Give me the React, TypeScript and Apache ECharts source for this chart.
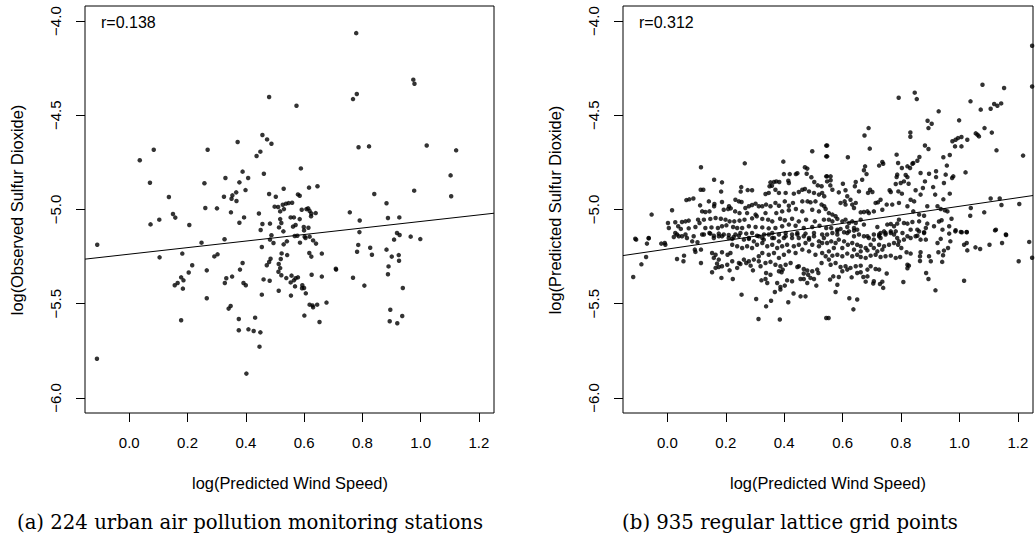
import React, { useEffect, useRef } from "react";
import * as echarts from "echarts";

// Axis ranges (R style: limits -0.1..1.2 and -6..-4, extended 4%)
const X_MIN = -0.152;
const X_MAX = 1.252;
const Y_MIN = -6.08;
const Y_MAX = -3.92;
const xTicks = [0, 0.2, 0.4, 0.6, 0.8, 1.0, 1.2];
const yTicks = [-6, -5.5, -5, -4.5, -4];

const xTitle = "log(Predicted Wind Speed)";
const leftYTitle = "log(Observed Sulfur Dioxide)";
const rightYTitle = "log(Predicted Sulfur Dioxide)";
const leftR = "r=0.138";
const rightR = "r=0.312";
const leftCaption = "(a) 224 urban air pollution monitoring stations";
const rightCaption = "(b) 935 regular lattice grid points";

// fitted lines
const stationFit = { intercept: -5.237, slope: 0.1735 };
const latticeFit = { intercept: -5.21, slope: 0.227 };

// (a) monitoring stations: [log wind speed, log SO2]
const stationsWest: [number, number][] = [
  [0.480,-4.403],[0.457,-4.605],[0.473,-4.628],[0.488,-4.651],[0.372,-4.642],[0.084,-4.683],[0.269,-4.683],[0.036,-4.739],[0.450,-4.693],[0.437,-4.716],
  [0.389,-4.799],[0.462,-4.810],[0.408,-4.833],[0.330,-4.833],[0.378,-4.856],[0.071,-4.858],[0.258,-4.861],[0.399,-4.897],[0.530,-4.890],[0.480,-4.918],
  [0.367,-4.909],[0.354,-4.925],[0.325,-4.932],[0.351,-4.943],[0.368,-4.955],[0.136,-4.934],[0.503,-4.932],[0.261,-4.992],[0.301,-4.994],[0.499,-4.985],
  [0.511,-4.987],[0.527,-4.975],[0.538,-4.969],[0.547,-4.966],[0.518,-5.010],[0.531,-4.998],[0.349,-5.015],[0.150,-5.024],[0.158,-5.043],[0.103,-5.054],
  [0.073,-5.079],[0.206,-5.082],[0.394,-5.042],[0.378,-5.070],[0.445,-5.021],[0.457,-5.077],[0.483,-5.075],[0.518,-5.051],[0.522,-5.072],[0.514,-5.095],
  [0.529,-5.116],[0.451,-5.109],[0.488,-5.137],[0.483,-5.160],[0.495,-5.178],[0.530,-5.185],[0.541,-5.169],[-0.110,-5.187],[0.248,-5.176],[0.327,-5.158],
  [0.455,-5.199],[0.182,-5.234],[0.104,-5.254],[0.292,-5.249],[0.303,-5.238],[0.523,-5.233],[0.542,-5.242],[0.485,-5.261],[0.520,-5.263],[0.480,-5.279],
  [0.472,-5.296],[0.513,-5.289],[0.518,-5.311],[0.512,-5.330],[0.522,-5.349],[0.539,-5.364],[0.389,-5.284],[0.380,-5.319],[0.216,-5.296],[0.266,-5.323],
  [0.204,-5.334],[0.178,-5.360],[0.186,-5.376],[0.166,-5.390],[0.156,-5.402],[0.184,-5.420],[0.333,-5.365],[0.328,-5.390],[0.353,-5.356],[0.392,-5.390],
  [0.400,-5.402],[0.461,-5.371],[0.482,-5.378],[0.455,-5.452],[0.513,-5.431],[0.266,-5.471],[0.348,-5.512],[0.341,-5.526],[0.178,-5.588],[0.376,-5.581],
  [0.432,-5.574],[0.376,-5.641],[0.409,-5.636],[0.427,-5.645],[0.450,-5.652],[0.447,-5.728],[-0.111,-5.792],[0.402,-5.871],
];
const stationsEast: [number, number][] = [
  [0.779,-4.064],[0.975,-4.311],[0.979,-4.333],[0.781,-4.387],[0.768,-4.414],[0.574,-4.449],[0.787,-4.670],[0.823,-4.665],[1.021,-4.660],[1.122,-4.686],
  [0.589,-4.782],[1.103,-4.819],[0.978,-4.900],[1.105,-4.930],[0.841,-4.918],[0.617,-4.884],[0.646,-4.877],[0.579,-4.920],[0.585,-4.927],[0.559,-4.964],
  [0.883,-4.967],[0.592,-5.001],[0.608,-4.998],[0.614,-4.994],[0.619,-5.008],[0.625,-5.021],[0.640,-5.019],[0.624,-5.036],[0.757,-5.015],[0.888,-5.045],
  [0.927,-5.042],[0.554,-5.042],[0.565,-5.042],[0.585,-5.051],[0.571,-5.082],[0.562,-5.091],[0.599,-5.093],[0.615,-5.097],[0.600,-5.111],[0.791,-5.058],
  [0.790,-5.120],[0.919,-5.125],[0.928,-5.135],[0.909,-5.160],[0.966,-5.144],[0.999,-5.157],[0.568,-5.141],[0.577,-5.139],[0.602,-5.144],[0.619,-5.144],
  [0.605,-5.151],[0.631,-5.164],[0.641,-5.181],[0.586,-5.176],[0.786,-5.188],[0.827,-5.203],[0.782,-5.224],[0.833,-5.240],[0.883,-5.213],[0.901,-5.250],
  [0.925,-5.242],[0.926,-5.272],[0.890,-5.302],[0.618,-5.231],[0.625,-5.250],[0.661,-5.234],[0.709,-5.314],[0.710,-5.319],[0.888,-5.344],[0.768,-5.362],
  [0.807,-5.404],[0.626,-5.346],[0.661,-5.356],[0.557,-5.351],[0.579,-5.360],[0.571,-5.365],[0.565,-5.376],[0.554,-5.387],[0.569,-5.408],[0.594,-5.402],
  [0.600,-5.417],[0.593,-5.418],[0.606,-5.445],[0.555,-5.457],[0.939,-5.417],[0.619,-5.505],[0.629,-5.509],[0.645,-5.505],[0.677,-5.494],[0.631,-5.519],
  [0.601,-5.563],[0.653,-5.597],[0.896,-5.532],[0.937,-5.565],[0.894,-5.593],[0.920,-5.604],
];

// (b) lattice grid points
const latticeUpperWest: [number, number][] = [
  [0.496,-4.691],[0.544,-4.661],[0.544,-4.718],[0.115,-4.776],[0.265,-4.755],[0.397,-4.746],[0.471,-4.776],[0.479,-4.783],[0.477,-4.810],[0.399,-4.812],
  [0.419,-4.812],[0.440,-4.812],[0.445,-4.808],[0.160,-4.842],[0.187,-4.856],[0.493,-4.829],[0.503,-4.854],[0.515,-4.872],[0.528,-4.877],[0.544,-4.824],
  [0.353,-4.856],[0.365,-4.854],[0.373,-4.851],[0.383,-4.854],[0.350,-4.877],[0.358,-4.874],[0.414,-4.847],[0.416,-4.859],[0.114,-4.895],[0.123,-4.895],
  [0.184,-4.905],[0.253,-4.881],[0.251,-4.905],[0.275,-4.897],[0.290,-4.898],[0.336,-4.918],[0.347,-4.912],[0.370,-4.895],[0.382,-4.912],[0.405,-4.912],
  [0.433,-4.916],[0.450,-4.907],[0.462,-4.895],[0.471,-4.891],[0.485,-4.904],[0.502,-4.912],[0.519,-4.921],[0.530,-4.912],[0.537,-4.930],[0.065,-4.950],
  [0.075,-4.946],[0.089,-4.942],[0.016,-5.004],[-0.054,-5.027],[0.112,-4.978],[0.142,-4.957],[0.161,-4.971],[0.160,-4.983],[0.187,-4.960],[0.211,-4.983],
  [0.233,-4.948],[0.245,-4.957],[0.254,-4.960],[0.267,-4.992],[0.279,-4.983],[0.290,-4.976],[0.302,-4.969],[0.313,-4.983],[0.325,-4.983],[0.338,-4.974],
  [0.353,-4.983],[0.370,-4.965],[0.382,-4.980],[0.402,-4.957],[0.416,-4.980],[0.430,-4.965],[0.462,-4.957],[0.480,-4.957],[0.490,-4.962],[0.507,-4.957],
  [0.528,-4.974],[0.537,-4.983],[0.119,-5.010],[0.130,-5.013],[0.144,-5.010],[0.193,-5.001],[0.208,-4.997],[0.217,-4.994],[0.232,-5.010],[0.247,-5.019],
  [0.273,-5.019],[0.302,-5.027],[0.336,-5.019],[0.373,-5.019],[0.393,-5.010],[0.416,-5.004],[0.440,-4.997],[0.462,-5.010],[0.496,-5.001],[0.519,-5.010],
  [0.542,-4.997],[0.002,-5.072],[0.027,-5.068],[0.050,-5.066],[0.062,-5.063],[0.073,-5.059],[0.105,-5.054],[0.110,-5.072],[0.125,-5.054],[0.147,-5.050],
  [0.165,-5.045],[0.183,-5.049],[0.199,-5.054],[0.213,-5.063],[0.229,-5.063],[0.247,-5.059],[0.264,-5.054],[0.290,-5.047],[0.306,-5.036],[0.325,-5.050],
  [0.345,-5.054],[0.359,-5.063],[0.386,-5.049],[0.402,-5.057],[0.427,-5.049],[0.450,-5.063],[0.475,-5.054],[0.505,-5.063],[0.536,-5.054],[0.005,-5.098],
  [0.037,-5.089],[0.046,-5.103],[0.073,-5.100],[0.096,-5.093],[0.130,-5.098],[0.151,-5.095],[0.173,-5.098],[0.187,-5.089],[0.202,-5.084],[0.225,-5.093],
  [0.239,-5.098],[0.256,-5.098],[0.279,-5.089],[0.302,-5.093],[0.325,-5.095],[0.347,-5.100],[0.370,-5.098],[0.393,-5.089],[0.416,-5.080],[0.439,-5.086],
  [0.467,-5.098],[0.496,-5.093],[0.521,-5.086],[0.544,-5.098],[0.027,-5.125],[0.039,-5.142],[0.062,-5.133],[0.090,-5.142],[0.119,-5.133],[0.144,-5.125],
  [0.159,-5.139],[0.176,-5.128],[0.187,-5.142],[0.210,-5.135],[0.233,-5.133],[0.250,-5.125],[0.270,-5.128],[0.290,-5.125],[0.307,-5.139],[0.331,-5.133],
  [0.359,-5.125],[0.382,-5.133],[0.405,-5.125],[0.427,-5.133],[0.445,-5.125],[0.473,-5.128],[0.502,-5.125],[0.530,-5.133],[-0.110,-5.155],[-0.064,-5.151],
  [0.222,-5.156],[0.279,-5.156],[0.325,-5.151],[0.359,-5.151],[0.399,-5.151],[0.450,-5.151],[0.485,-5.151],
];
const latticeUpperEast: [number, number][] = [
  [1.249,-4.131],[1.249,-4.347],[1.079,-4.338],[1.153,-4.355],[0.847,-4.380],[0.854,-4.414],[0.792,-4.407],[1.038,-4.426],[1.073,-4.470],[1.107,-4.465],
  [1.119,-4.440],[1.130,-4.449],[1.143,-4.437],[0.929,-4.479],[0.891,-4.529],[0.894,-4.568],[0.905,-4.545],[0.999,-4.527],[0.689,-4.568],[0.675,-4.607],
  [0.832,-4.591],[0.832,-4.614],[1.086,-4.568],[1.111,-4.592],[1.056,-4.596],[1.067,-4.612],[1.062,-4.603],[0.976,-4.638],[0.987,-4.630],[0.995,-4.621],
  [1.007,-4.615],[1.027,-4.630],[0.985,-4.665],[1.007,-4.665],[0.882,-4.660],[0.894,-4.679],[0.693,-4.677],[0.547,-4.660],[0.547,-4.718],[0.618,-4.723],
  [0.785,-4.709],[0.945,-4.723],[0.967,-4.711],[1.127,-4.686],[1.218,-4.714],[0.725,-4.767],[0.736,-4.748],[0.739,-4.757],[0.677,-4.771],[0.673,-4.792],
  [0.682,-4.812],[0.790,-4.753],[0.803,-4.780],[0.822,-4.771],[0.842,-4.753],[0.856,-4.741],[0.863,-4.721],[0.831,-4.780],[0.839,-4.757],[0.957,-4.767],
  [0.953,-4.815],[0.975,-4.833],[0.979,-4.824],[1.021,-4.803],[0.547,-4.824],[0.559,-4.824],[0.547,-4.851],[0.559,-4.845],[0.558,-4.872],[0.867,-4.806],
  [0.882,-4.851],[0.896,-4.810],[0.920,-4.797],[0.920,-4.828],[0.787,-4.815],[0.785,-4.828],[0.816,-4.817],[0.822,-4.828],[0.826,-4.863],[0.810,-4.851],
  [0.799,-4.859],[0.782,-4.865],[0.645,-4.854],[0.642,-4.877],[0.667,-4.842],[0.601,-4.863],[0.565,-4.895],[0.587,-4.909],[0.610,-4.898],[0.616,-4.930],
  [0.607,-4.957],[0.627,-4.948],[0.645,-4.965],[0.656,-4.904],[0.687,-4.912],[0.694,-4.895],[0.702,-4.907],[0.761,-4.898],[0.765,-4.907],[0.791,-4.904],
  [0.803,-4.916],[0.833,-4.948],[0.850,-4.898],[0.867,-4.921],[0.875,-4.886],[0.910,-4.881],[0.917,-4.921],[0.947,-4.859],[0.945,-4.946],[0.967,-4.916],
  [0.845,-4.957],[0.890,-4.983],[0.925,-4.983],[0.936,-4.997],[0.950,-5.004],[0.959,-5.010],[0.973,-5.049],[0.930,-5.064],[0.939,-5.057],[1.039,-4.992],
  [1.037,-5.033],[1.085,-5.015],[1.107,-4.942],[1.138,-4.942],[1.144,-4.976],[1.205,-4.971],[0.593,-4.965],[0.610,-4.974],[0.633,-4.974],[0.639,-4.992],
  [0.662,-5.015],[0.673,-5.013],[0.685,-5.010],[0.690,-5.019],[0.707,-5.010],[0.713,-4.965],[0.730,-4.948],[0.721,-4.962],[0.736,-5.001],[0.751,-4.974],
  [0.770,-4.974],[0.793,-4.965],[0.822,-4.983],[0.842,-5.010],[0.862,-5.027],[0.879,-5.033],[0.553,-5.019],[0.565,-5.027],[0.576,-5.036],[0.553,-5.054],
  [0.565,-5.063],[0.582,-5.050],[0.599,-5.063],[0.610,-5.054],[0.622,-5.072],[0.633,-5.063],[0.645,-5.072],[0.662,-5.054],[0.561,-5.098],[0.582,-5.107],
  [0.593,-5.103],[0.616,-5.093],[0.639,-5.098],[0.650,-5.107],[0.673,-5.080],[0.719,-5.093],[0.730,-5.125],[0.742,-5.116],[0.753,-5.080],[0.765,-5.077],
  [0.776,-5.089],[0.787,-5.075],[0.793,-5.054],[0.810,-5.072],[0.822,-5.075],[0.839,-5.066],[0.862,-5.063],[0.890,-5.075],[0.885,-5.098],[0.913,-5.089],
  [0.942,-5.107],[0.965,-5.089],[0.987,-5.110],[1.005,-5.119],[1.025,-5.119],[0.965,-5.128],[1.125,-5.107],[1.159,-5.133],[0.582,-5.133],[0.616,-5.125],
  [0.639,-5.142],[0.685,-5.142],[0.707,-5.133],[0.725,-5.142],[0.747,-5.133],[0.765,-5.125],[0.782,-5.116],[0.805,-5.125],[0.833,-5.107],[0.856,-5.107],
  [0.879,-5.125],[0.822,-5.142],[0.856,-5.139],
];
const latticeLowerWest: [number, number][] = [
  [-0.107,-5.160],[-0.064,-5.153],[-0.070,-5.181],[-0.021,-5.181],[-0.009,-5.178],[-0.007,-5.187],[-0.073,-5.252],[-0.089,-5.291],[-0.117,-5.358],[0.033,-5.263],
  [0.057,-5.245],[0.055,-5.275],[0.115,-5.284],[0.094,-5.213],[0.096,-5.225],[0.115,-5.213],[0.022,-5.146],[0.033,-5.133],[0.050,-5.142],[0.067,-5.151],
  [0.085,-5.169],[0.103,-5.174],[0.125,-5.133],[0.147,-5.128],[0.159,-5.151],[0.176,-5.142],[0.193,-5.133],[0.210,-5.151],[0.227,-5.146],[0.245,-5.139],
  [0.262,-5.160],[0.279,-5.151],[0.296,-5.169],[0.313,-5.142],[0.330,-5.160],[0.347,-5.133],[0.365,-5.151],[0.382,-5.169],[0.405,-5.142],[0.427,-5.151],
  [0.445,-5.133],[0.467,-5.142],[0.485,-5.160],[0.502,-5.142],[0.519,-5.169],[0.536,-5.151],[0.153,-5.231],[0.165,-5.240],[0.187,-5.227],[0.206,-5.240],
  [0.216,-5.231],[0.176,-5.266],[0.159,-5.257],[0.170,-5.287],[0.187,-5.301],[0.205,-5.293],[0.222,-5.275],[0.245,-5.284],[0.262,-5.266],[0.279,-5.275],
  [0.296,-5.266],[0.313,-5.248],[0.325,-5.231],[0.347,-5.240],[0.365,-5.231],[0.382,-5.257],[0.399,-5.240],[0.416,-5.222],[0.439,-5.231],[0.462,-5.213],
  [0.485,-5.222],[0.507,-5.240],[0.530,-5.231],[0.542,-5.248],[0.222,-5.187],[0.239,-5.195],[0.256,-5.204],[0.273,-5.195],[0.290,-5.204],[0.307,-5.187],
  [0.325,-5.178],[0.342,-5.195],[0.359,-5.187],[0.376,-5.204],[0.393,-5.195],[0.410,-5.187],[0.433,-5.195],[0.450,-5.187],[0.473,-5.178],[0.496,-5.187],
  [0.519,-5.195],[0.530,-5.178],[0.153,-5.333],[0.165,-5.310],[0.176,-5.305],[0.213,-5.323],[0.239,-5.310],[0.250,-5.289],[0.270,-5.284],[0.285,-5.298],
  [0.293,-5.323],[0.313,-5.275],[0.319,-5.301],[0.336,-5.284],[0.353,-5.278],[0.370,-5.293],[0.387,-5.301],[0.405,-5.293],[0.422,-5.284],[0.450,-5.301],
  [0.467,-5.316],[0.479,-5.324],[0.496,-5.328],[0.513,-5.319],[0.528,-5.284],[0.185,-5.363],[0.224,-5.369],[0.322,-5.376],[0.336,-5.369],[0.338,-5.337],
  [0.342,-5.390],[0.353,-5.346],[0.382,-5.328],[0.391,-5.333],[0.395,-5.319],[0.376,-5.390],[0.387,-5.411],[0.402,-5.404],[0.410,-5.376],[0.427,-5.381],
  [0.445,-5.305],[0.456,-5.369],[0.467,-5.369],[0.479,-5.390],[0.490,-5.363],[0.502,-5.369],[0.510,-5.404],[0.517,-5.337],[0.467,-5.340],[0.482,-5.346],
  [0.254,-5.452],[0.304,-5.475],[0.338,-5.514],[0.355,-5.484],[0.368,-5.438],[0.387,-5.425],[0.414,-5.492],[0.432,-5.446],[0.456,-5.461],[0.473,-5.461],
  [0.312,-5.581],[0.385,-5.584],[0.544,-5.576],
];
const latticeLowerEast: [number, number][] = [
  [0.552,-5.576],[0.637,-5.530],[0.623,-5.471],[0.650,-5.478],[0.576,-5.438],[0.582,-5.399],[0.557,-5.372],[0.568,-5.355],[0.587,-5.358],[0.599,-5.328],
  [0.616,-5.319],[0.631,-5.360],[0.650,-5.337],[0.662,-5.333],[0.671,-5.358],[0.679,-5.383],[0.685,-5.355],[0.707,-5.381],[0.705,-5.393],[0.728,-5.395],
  [0.736,-5.383],[0.739,-5.416],[0.751,-5.340],[0.725,-5.319],[0.713,-5.316],[0.696,-5.301],[0.685,-5.319],[0.662,-5.298],[0.645,-5.301],[0.627,-5.310],
  [0.610,-5.301],[0.593,-5.305],[0.576,-5.284],[0.559,-5.293],[0.553,-5.266],[0.565,-5.245],[0.582,-5.240],[0.599,-5.248],[0.616,-5.234],[0.633,-5.248],
  [0.650,-5.240],[0.662,-5.252],[0.679,-5.257],[0.696,-5.245],[0.713,-5.240],[0.730,-5.252],[0.747,-5.248],[0.765,-5.245],[0.782,-5.257],[0.797,-5.252],
  [0.808,-5.385],[0.822,-5.293],[0.822,-5.312],[0.827,-5.298],[0.819,-5.227],[0.833,-5.234],[0.867,-5.227],[0.865,-5.248],[0.865,-5.273],[0.896,-5.248],
  [0.902,-5.275],[0.886,-5.337],[0.894,-5.369],[0.918,-5.429],[0.941,-5.278],[0.928,-5.227],[0.944,-5.243],[0.947,-5.218],[0.925,-5.178],[0.936,-5.156],
  [0.961,-5.204],[0.969,-5.169],[1.016,-5.378],[1.016,-5.187],[1.025,-5.178],[1.027,-5.217],[1.055,-5.201],[1.071,-5.210],[1.103,-5.187],[1.146,-5.178],
  [1.203,-5.275],[1.239,-5.172],[1.249,-5.256],[0.986,-5.116],[1.008,-5.121],[1.025,-5.121],[1.122,-5.111],[1.160,-5.135],[0.547,-5.133],[0.565,-5.125],
  [0.582,-5.116],[0.605,-5.121],[0.622,-5.116],[0.639,-5.112],[0.656,-5.133],[0.673,-5.142],[0.690,-5.151],[0.707,-5.160],[0.725,-5.133],[0.730,-5.151],
  [0.747,-5.125],[0.765,-5.116],[0.776,-5.133],[0.787,-5.151],[0.793,-5.169],[0.810,-5.160],[0.833,-5.151],[0.850,-5.142],[0.867,-5.160],[0.885,-5.160],
  [0.862,-5.116],[0.879,-5.121],[0.547,-5.178],[0.561,-5.169],[0.576,-5.178],[0.587,-5.160],[0.605,-5.169],[0.618,-5.187],[0.633,-5.178],[0.650,-5.187],
  [0.662,-5.195],[0.679,-5.204],[0.696,-5.187],[0.707,-5.204],[0.725,-5.187],[0.742,-5.195],[0.759,-5.187],[0.776,-5.178],[0.790,-5.187],[0.801,-5.204],
  [0.736,-5.213],[0.719,-5.222],[0.685,-5.217],[0.662,-5.222],[0.639,-5.213],[0.599,-5.204],[0.570,-5.204],[0.553,-5.222],
];

const stationPoints = [...stationsWest, ...stationsEast];
const latticePoints = [...latticeUpperWest, ...latticeUpperEast, ...latticeLowerWest, ...latticeLowerEast];

const SANS = "Liberation Sans";
const SERIF = "DejaVu Serif";

function fitLine(fit: { intercept: number; slope: number }): [number, number][] {
  return [X_MIN, X_MAX].map((x) => [x, fit.intercept + fit.slope * x] as [number, number]);
}

export default function App() {
  const ref = useRef<HTMLDivElement>(null);
  useEffect(() => {
    if (!ref.current) return;
    const chart = echarts.init(ref.current, undefined, { renderer: "svg" });
    const labelStyle = { color: "#000", fontFamily: SANS, fontSize: 15 };
    const grids = [
      { left: 85, top: 6, width: 409, height: 407 },
      { left: 623, top: 6, width: 410, height: 407 },
    ].map((g) => ({ ...g, show: true, borderColor: "#000", borderWidth: 1, backgroundColor: "transparent", containLabel: false, outerBoundsMode: "none" }));
    const mkX = (i: number) => ({
      type: "value", gridIndex: i, min: X_MIN, max: X_MAX,
      axisLine: { show: false, onZero: false }, splitLine: { show: false },
      axisTick: { show: true, length: 9, customValues: xTicks, lineStyle: { color: "#000", width: 1 } },
      axisLabel: { show: true, customValues: xTicks, margin: 22, formatter: (v: number) => v.toFixed(1), ...labelStyle },
    });
    const mkY = (i: number) => ({
      type: "value", gridIndex: i, min: Y_MIN, max: Y_MAX,
      axisLine: { show: false, onZero: false }, splitLine: { show: false },
      axisTick: { show: true, length: 9, customValues: yTicks, lineStyle: { color: "#000", width: 1 } },
      axisLabel: {
        show: true, customValues: yTicks, rotate: 90, margin: 22,
        formatter: (v: number) => (v < 0 ? "\u2212" : "") + Math.abs(v).toFixed(1), ...labelStyle,
      },
    });
    const txt = (x: number, y: number, text: string, opts: any = {}) => ({
      type: "text", x, y, silent: true,
      rotation: opts.rotation || 0,
      style: {
        text, fill: "#000",
        fontFamily: opts.fontFamily || SANS,
        fontSize: opts.fontSize || 16.4,
        align: opts.align || "center",
        verticalAlign: "middle",
      },
    });
    chart.setOption({
      animation: false,
      backgroundColor: "#fff",
      grid: grids,
      xAxis: [mkX(0), mkX(1)],
      yAxis: [mkY(0), mkY(1)],
      series: [
        { type: "scatter", xAxisIndex: 0, yAxisIndex: 0, data: stationPoints, symbol: "circle", symbolSize: 4.5, itemStyle: { color: "#000" }, silent: true },
        { type: "scatter", xAxisIndex: 1, yAxisIndex: 1, data: latticePoints, symbol: "circle", symbolSize: 4.5, itemStyle: { color: "#000" }, silent: true },
        { type: "line", xAxisIndex: 0, yAxisIndex: 0, data: fitLine(stationFit), symbol: "none", lineStyle: { color: "#000", width: 1 }, clip: true, silent: true },
        { type: "line", xAxisIndex: 1, yAxisIndex: 1, data: fitLine(latticeFit), symbol: "none", lineStyle: { color: "#000", width: 1 }, clip: true, silent: true },
      ],
      graphic: [
        txt(17, 210, leftYTitle, { rotation: Math.PI / 2 }),
        txt(555, 210, rightYTitle, { rotation: Math.PI / 2 }),
        txt(290, 483, xTitle),
        txt(828, 483, xTitle),
        txt(101, 22, leftR, { align: "left", fontSize: 16 }),
        txt(639, 22, rightR, { align: "left", fontSize: 16 }),
        txt(250, 522, leftCaption, { fontFamily: SERIF, fontSize: 19.7 }),
        txt(790, 522, rightCaption, { fontFamily: SERIF, fontSize: 19.7 }),
      ],
    });
    return () => chart.dispose();
  }, []);
  return <div ref={ref} style={{ position: "absolute", left: 0, top: 0, width: 1035, height: 539 }} />;
}
